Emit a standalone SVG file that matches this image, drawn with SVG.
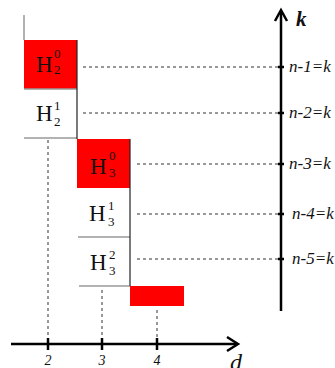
<svg xmlns="http://www.w3.org/2000/svg" width="335" height="368" viewBox="0 0 335 368">
<defs>
<style>
.h{font-family:"Liberation Serif","DejaVu Serif",serif;font-size:23px;fill:#111}
.s{font-family:"Liberation Serif","DejaVu Serif",serif;font-size:13px;fill:#111}
.lab{font-family:"Liberation Serif","DejaVu Serif",serif;font-style:italic;font-size:17px;fill:#111}
.num{font-family:"Liberation Serif","DejaVu Serif",serif;font-style:italic;font-size:14px;fill:#111;text-anchor:middle}
.dash{stroke:#333;stroke-width:1;stroke-dasharray:3,3;fill:none}
.gray{stroke:#999;stroke-width:1.5;fill:none}
.dark{stroke:#222;stroke-width:1.2;fill:none}
.axis{stroke:#000;stroke-width:2.5;fill:none}
.red{fill:#ff0000}
</style>
</defs>
<g id="connectors">
<line class="dash" x1="83" y1="67" x2="281" y2="67"/>
<line class="dash" x1="83" y1="113" x2="281" y2="113"/>
<line class="dash" x1="137" y1="164" x2="281" y2="164"/>
<line class="dash" x1="137" y1="214" x2="281" y2="214"/>
<line class="dash" x1="137" y1="259" x2="281" y2="259"/>
<line class="dash" x1="48" y1="140" x2="48" y2="344"/>
<line class="dash" x1="102" y1="290" x2="102" y2="344"/>
<line class="dash" x1="157" y1="310" x2="157" y2="344"/>
</g>
<g id="axis-d">
<line class="axis" x1="11" y1="344" x2="237" y2="344"/>
<polyline class="axis" points="227,337 238,344 227,351"/>
<line class="axis" x1="48" y1="338" x2="48" y2="350"/>
<line class="axis" x1="102" y1="338" x2="102" y2="350"/>
<line class="axis" x1="157" y1="338" x2="157" y2="350"/>
<text class="num" x="48" y="365">2</text>
<text class="num" x="102" y="365">3</text>
<text class="num" x="157" y="365">4</text>
<text x="230" y="370" style="font-family:'Liberation Serif',serif;font-style:italic;font-size:24px;fill:#111">d</text>
</g>
<g id="axis-k">
<line class="axis" x1="281" y1="11" x2="281" y2="311"/>
<polyline class="axis" points="275,21 281,10 287,21"/>
<line class="axis" x1="278" y1="67" x2="284" y2="67"/>
<line class="axis" x1="278" y1="113" x2="284" y2="113"/>
<line class="axis" x1="278" y1="164" x2="284" y2="164"/>
<line class="axis" x1="278" y1="214" x2="284" y2="214"/>
<line class="axis" x1="278" y1="259" x2="284" y2="259"/>
<text x="296" y="26" style="font-family:'Liberation Serif',serif;font-style:italic;font-weight:bold;font-size:21px;fill:#111">k</text>
<text class="lab" x="289" y="72">n-1=k</text>
<text class="lab" x="289" y="118">n-2=k</text>
<text class="lab" x="289" y="169">n-3=k</text>
<text class="lab" x="292" y="219">n-4=k</text>
<text class="lab" x="292" y="264">n-5=k</text>
</g>
<g id="H2-0">
<line class="gray" x1="24" y1="15" x2="24" y2="40"/>
<rect class="red" x="24" y="40" width="53" height="49"/>
<line class="gray" x1="24" y1="89" x2="77" y2="89"/>
<text class="h" x="36" y="72">H</text>
<text class="s" x="54" y="58">0</text>
<text class="s" x="54" y="74">2</text>
</g>
<g id="H2-1">
<text class="h" x="36" y="121">H</text>
<text class="s" x="54" y="110">1</text>
<text class="s" x="54" y="126">2</text>
<line class="gray" x1="24" y1="138" x2="77" y2="138"/>
<line class="dark" x1="77" y1="40" x2="77" y2="139"/>
</g>
<g id="H3-0">
<rect class="red" x="77" y="139" width="53" height="49"/>
<text class="h" x="90" y="174">H</text>
<text class="s" x="109" y="160">0</text>
<text class="s" x="109" y="177">3</text>
</g>
<g id="H3-1">
<text class="h" x="89" y="221">H</text>
<text class="s" x="108" y="210">1</text>
<text class="s" x="108" y="226">3</text>
<line class="gray" x1="78" y1="237" x2="130" y2="237"/>
</g>
<g id="H3-2">
<text class="h" x="90" y="270">H</text>
<text class="s" x="109" y="259">2</text>
<text class="s" x="109" y="275">3</text>
<line class="gray" x1="79" y1="286" x2="130" y2="286"/>
<line class="dark" x1="130" y1="139" x2="130" y2="286"/>
</g>
<g id="H4">
<rect class="red" x="130" y="286" width="54" height="20"/>
</g>
</svg>
